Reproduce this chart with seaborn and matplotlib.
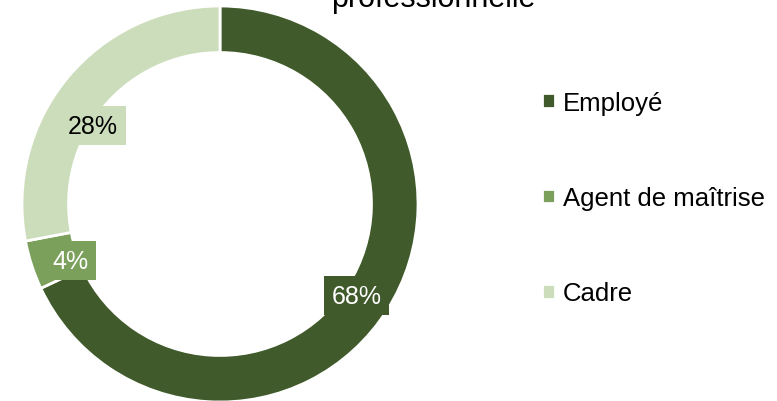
import matplotlib
matplotlib.use("Agg")
import matplotlib.pyplot as plt
import seaborn as sns
import numpy as np

categories = ["Employé", "Agent de maîtrise", "Cadre"]
values = [68, 4, 28]
labels = ["68%", "4%", "28%"]
colors = ["#405A2B", "#7BA05B", "#CBDDBB"]
text_colors = ["white", "white", "black"]

sns.set_theme(style="white")
plt.rcParams['font.family'] = ['Liberation Sans', 'DejaVu Sans']
plt.rcParams['text.color'] = 'black'

fig = plt.figure(figsize=(7.77, 4.02), dpi=100)
ax = fig.add_axes([22/777, -1/402, 396/777, 396/402])

wedges, _ = ax.pie(values, colors=colors, startangle=90, counterclock=False,
                   radius=1.0,
                   wedgeprops=dict(width=0.235, edgecolor="white", linewidth=2))
ax.set_xlim(-1, 1)
ax.set_ylim(-1, 1)
ax.set_aspect("equal")

label_r = [0.833, 0.81, 0.753]
label_shift = [-1.5, 2.8, 8.0]
total = sum(values)
start = 90.0
for i, v in enumerate(values):
    sweep = 360.0 * v / total
    mid = np.deg2rad(start - sweep / 2 + label_shift[i])
    start -= sweep
    x, y = label_r[i] * np.cos(mid), label_r[i] * np.sin(mid)
    ax.text(x, y, labels[i], ha="center", va="center", fontsize=18,
            color=text_colors[i],
            bbox=dict(boxstyle="square,pad=0.3", facecolor=colors[i], edgecolor="none"))

fig.text(433/777, 1 - 7/402, "professionnelle", ha="center", va="baseline",
         fontsize=22, color="black")

leg = fig.legend(wedges, categories, loc="center left",
                 bbox_to_anchor=(532/777, 199/402 + 0.01),
                 frameon=False, fontsize=18.5, handlelength=0.5, handleheight=0.5,
                 handletextpad=0.3, labelspacing=2.78, borderaxespad=0)
for t in leg.get_texts():
    t.set_color("black")

fig.savefig("out.png", dpi=100)
